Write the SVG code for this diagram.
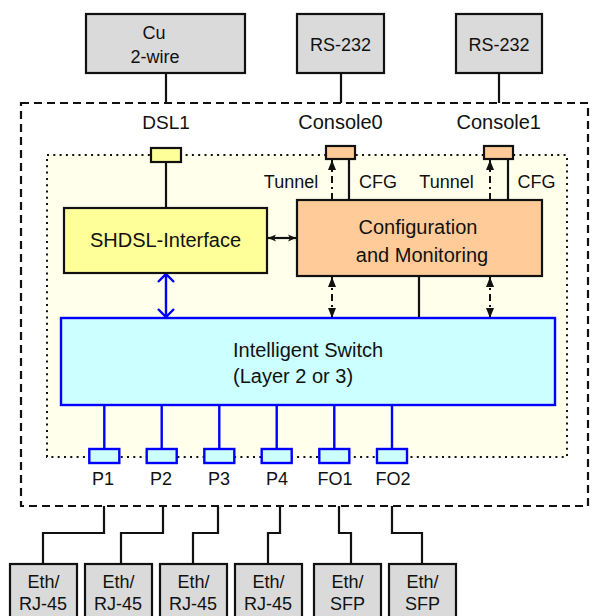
<svg xmlns="http://www.w3.org/2000/svg" width="596" height="616" viewBox="0 0 596 616">
<style>
text{font-family:"Liberation Sans",Arial,sans-serif;fill:#111;}
.lbl{font-size:18px;text-anchor:middle;}
.big{font-size:20px;text-anchor:middle;}
.gray{fill:#DADADA;stroke:#111;stroke-width:2.2;}
.blk{fill:none;stroke:#111;stroke-width:2.2;}
.dd{fill:none;stroke:#111;stroke-width:2;stroke-dasharray:7,4,2,4;}
.blue{fill:none;stroke:#0000FF;stroke-width:2.4;}
.port{fill:#CCFFFF;stroke:#0000FF;stroke-width:2.4;}
</style>
<defs>
<marker id="ah" viewBox="0 0 10 10" refX="10" refY="5" markerWidth="10" markerHeight="10" markerUnits="userSpaceOnUse" orient="auto-start-reverse">
<path d="M0,1 L10,5 L0,9 z" fill="#111"/>
</marker>
<marker id="sh" viewBox="0 0 8 8" refX="8" refY="4" markerWidth="8" markerHeight="8" markerUnits="userSpaceOnUse" orient="auto-start-reverse">
<path d="M0,0.5 L8,4 L0,7.5 L2,4 z" fill="#111"/>
</marker>
</defs>

<rect id="device" x="21" y="103" width="567" height="403" fill="none" stroke="#111" stroke-width="2.2" stroke-dasharray="8,5"/>
<rect id="core" x="47" y="155" width="520" height="302" fill="#FFFFEC" stroke="#111" stroke-width="2" stroke-dasharray="2,4.3"/>

<g id="connectors">
<path class="blk" d="M166,73 V103 M341,73 V103 M499,73 V103"/>
<path class="blk" d="M166,162 V208"/>
<path class="blk" d="M349,200 V159 M508,200 V159 M419,276 V318"/>
<path class="dd" d="M332,200 V160" marker-end="url(#ah)"/>
<path class="dd" d="M490,200 V160" marker-end="url(#ah)"/>
<path class="dd" d="M332,277 V318" marker-start="url(#ah)" marker-end="url(#ah)"/>
<path class="dd" d="M490,277 V318" marker-start="url(#ah)" marker-end="url(#ah)"/>
<path class="blk" d="M268,238 H296" marker-start="url(#sh)" marker-end="url(#sh)"/>
<path class="blue" d="M166,274 V317 M158,282 L166,274 L174,282 M158,309 L166,317 L174,309"/>
<path class="blue" d="M104.3,405 V449 M161.7,405 V449 M219.3,405 V449 M276.7,405 V449 M334.3,405 V449 M392,405 V449"/>
<path class="blk" d="M104,506 V533 H43 V564 M163,506 V533 H121 V564 M218,506 V533 H193 V564 M280,506 V533 H268 V564 M339,506 V533 H351 V564 M392,506 V533 H422 V564"/>
</g>

<g id="cu"><rect class="gray" x="86" y="14" width="159" height="59"/><text class="lbl" x="154" y="39">Cu</text><text class="lbl" x="155" y="63">2-wire</text></g>
<g id="rs232a"><rect class="gray" x="297" y="14" width="87" height="59"/><text class="lbl" x="340.5" y="51">RS-232</text></g>
<g id="rs232b"><rect class="gray" x="456" y="14" width="86" height="59"/><text class="lbl" x="499" y="51">RS-232</text></g>

<g id="dsl1"><text class="lbl" x="166" y="129" style="font-size:19px">DSL1</text><rect x="151" y="148" width="30" height="14" fill="#FFFF99" stroke="#111" stroke-width="2.2"/></g>
<g id="console0"><text class="lbl" x="340.5" y="129" style="font-size:20px">Console0</text><rect x="326" y="146" width="29" height="13" fill="#FFCC99" stroke="#111" stroke-width="2.2"/></g>
<g id="console1"><text class="lbl" x="498.7" y="129" style="font-size:20px">Console1</text><rect x="484" y="146" width="29" height="13" fill="#FFCC99" stroke="#111" stroke-width="2.2"/></g>

<g id="labels">
<text class="lbl" x="291" y="188">Tunnel</text>
<text class="lbl" x="378" y="188">CFG</text>
<text class="lbl" x="446.5" y="188">Tunnel</text>
<text class="lbl" x="536.5" y="188">CFG</text>
</g>

<g id="shdsl"><rect x="64" y="208" width="203" height="65" fill="#FFFF99" stroke="#111" stroke-width="2.2"/><text class="big" x="165.5" y="247">SHDSL-Interface</text></g>
<g id="config"><rect x="297" y="200" width="245" height="76" fill="#FFCC99" stroke="#111" stroke-width="2.2"/><text class="big" x="418" y="234">Configuration</text><text class="big" x="422" y="262">and Monitoring</text></g>
<g id="switch"><rect x="61" y="318" width="494" height="87" fill="#CCFFFF" stroke="#0000FF" stroke-width="2.4"/><text x="233" y="357" style="font-size:20px">Intelligent Switch</text><text x="233" y="383" style="font-size:20px">(Layer 2 or 3)</text></g>

<g id="p1"><rect class="port" x="89.3" y="449" width="30" height="14"/><text class="lbl" x="103" y="485">P1</text></g>
<g id="p2"><rect class="port" x="146.7" y="449" width="30" height="14"/><text class="lbl" x="161" y="485">P2</text></g>
<g id="p3"><rect class="port" x="204.3" y="449" width="30" height="14"/><text class="lbl" x="219" y="485">P3</text></g>
<g id="p4"><rect class="port" x="261.7" y="449" width="30" height="14"/><text class="lbl" x="277" y="485">P4</text></g>
<g id="fo1"><rect class="port" x="319.3" y="449" width="30" height="14"/><text class="lbl" x="335" y="485">FO1</text></g>
<g id="fo2"><rect class="port" x="377" y="449" width="30" height="14"/><text class="lbl" x="393" y="485">FO2</text></g>

<g id="eth1"><rect class="gray" x="10" y="564" width="67" height="62"/><text class="lbl" x="43.5" y="588">Eth/</text><text class="lbl" x="43" y="610">RJ-45</text></g>
<g id="eth2"><rect class="gray" x="85" y="564" width="67" height="62"/><text class="lbl" x="118.5" y="588">Eth/</text><text class="lbl" x="118" y="610">RJ-45</text></g>
<g id="eth3"><rect class="gray" x="160" y="564" width="67" height="62"/><text class="lbl" x="193.5" y="588">Eth/</text><text class="lbl" x="193" y="610">RJ-45</text></g>
<g id="eth4"><rect class="gray" x="235" y="564" width="67" height="62"/><text class="lbl" x="268.5" y="588">Eth/</text><text class="lbl" x="268" y="610">RJ-45</text></g>
<g id="sfp1"><rect class="gray" x="314" y="564" width="67" height="62"/><text class="lbl" x="347.5" y="588">Eth/</text><text class="lbl" x="347.5" y="610">SFP</text></g>
<g id="sfp2"><rect class="gray" x="389" y="564" width="67" height="62"/><text class="lbl" x="422.5" y="588">Eth/</text><text class="lbl" x="422.5" y="610">SFP</text></g>
</svg>
